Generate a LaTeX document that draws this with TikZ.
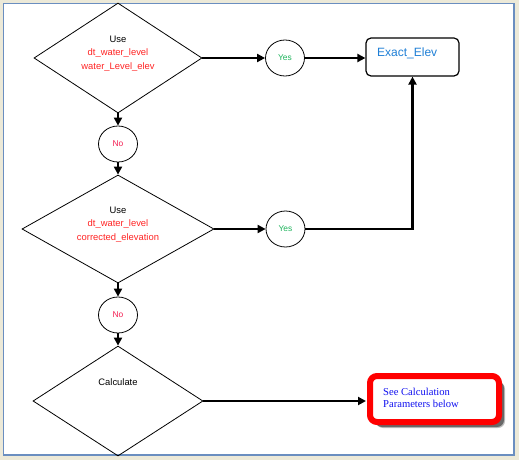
\documentclass[tikz,border=0pt]{standalone}
\usepackage{fontspec}
\setmainfont{Liberation Sans}
\newfontfamily\serifbox{Liberation Serif}
\usetikzlibrary{shapes.geometric,arrows.meta,shadows}
\definecolor{bgbeige}{HTML}{ECE9D8}
\definecolor{frameblue}{HTML}{6A8EC0}
\definecolor{txtred}{HTML}{FF2424}
\definecolor{noRed}{HTML}{F41C50}
\definecolor{yesGreen}{HTML}{1EB45C}
\definecolor{elevBlue}{HTML}{1E7FD6}
\definecolor{calcBlue}{HTML}{1010F0}
\tikzset{
  decision/.style={draw=black, line width=0.8pt, diamond, inner sep=0pt},
  answer/.style={draw=black, line width=0.8pt, ellipse, minimum width=39pt, minimum height=36pt, inner sep=0pt, font=\fontsize{8.4}{9}\selectfont},
  dtext/.style={align=center, font=\fontsize{9.4}{13.5}\selectfont, inner sep=0pt},
  flow/.style={line width=2.2pt, -{Triangle[length=8pt,width=8pt]}},
}
\begin{document}
\begin{tikzpicture}[x=1pt,y=-1pt]
\useasboundingbox (0,0) rectangle (519,460);
\fill[bgbeige] (0,0) rectangle (519,460);
\filldraw[fill=white, draw=frameblue, line width=1.2pt] (3.5,3.5) rectangle (514,455);

% decisions
\node[decision, minimum width=168pt, minimum height=110pt] (d1) at (118,58) {};
\node[dtext] (t1) at (118,53.5) {Use\\\textcolor{txtred}{dt\_water\_level}\\\textcolor{txtred}{water\_Level\_elev}};
\node[decision, minimum width=192pt, minimum height=108pt] (d2) at (118,229) {};
\node[dtext] (t2) at (118,224.5) {Use\\\textcolor{txtred}{dt\_water\_level}\\\textcolor{txtred}{corrected\_elevation}};
\node[decision, minimum width=170pt, minimum height=110pt] (d3) at (118,401) {};
\node[dtext] (t3) at (118,382) {Calculate};

% answers
\node[answer, text=noRed] (no1) at (118,144) {No};
\node[answer, text=noRed] (no2) at (118,315) {No};
\node[answer, text=yesGreen] (yes1) at (285,58) {Yes};
\node[answer, text=yesGreen] (yes2) at (285.5,229) {Yes};

% results
\node[draw=black, line width=1.2pt, rounded corners=5pt, minimum width=93pt, minimum height=38pt, inner sep=0pt] (elev) at (412.5,57) {};
\node[text=elevBlue, font=\fontsize{12}{14}\selectfont, anchor=west, inner sep=0pt] (elevt) at (377,53) {Exact\_Elev};

\node[draw=red, line width=6pt, rounded corners=7pt, fill=white, minimum width=129pt, minimum height=46pt, inner sep=0pt,
      general shadow={shadow xshift=6pt, shadow yshift=-6pt, opacity=0.25, fill=black},
      general shadow={shadow xshift=5pt, shadow yshift=-5pt, opacity=0.45, fill=black}] (calc) at (434.5,399) {};
\node[text=calcBlue, font=\serifbox\fontsize{10.6}{12}\selectfont, align=left, anchor=west, inner sep=0pt] (calct) at (383,398) {See Calculation\\Parameters below};

% connectors
\draw[flow] (d1.east) -- (yes1.west);
\draw[flow] (yes1.east) -- (elev.west |- yes1.east);
\draw[flow] (d1.south) -- (no1.north);
\draw[flow] (no1.south) -- (d2.north);
\draw[flow] (d2.east) -- (yes2.west);
\draw[flow] (yes2.east) -| (elev.south);
\draw[flow] (d2.south) -- (no2.north);
\draw[flow] (no2.south) -- (d3.north);
\draw[flow] (d3.east) -- ([xshift=-1pt]d3.east -| calc.west);
\end{tikzpicture}
\end{document}
